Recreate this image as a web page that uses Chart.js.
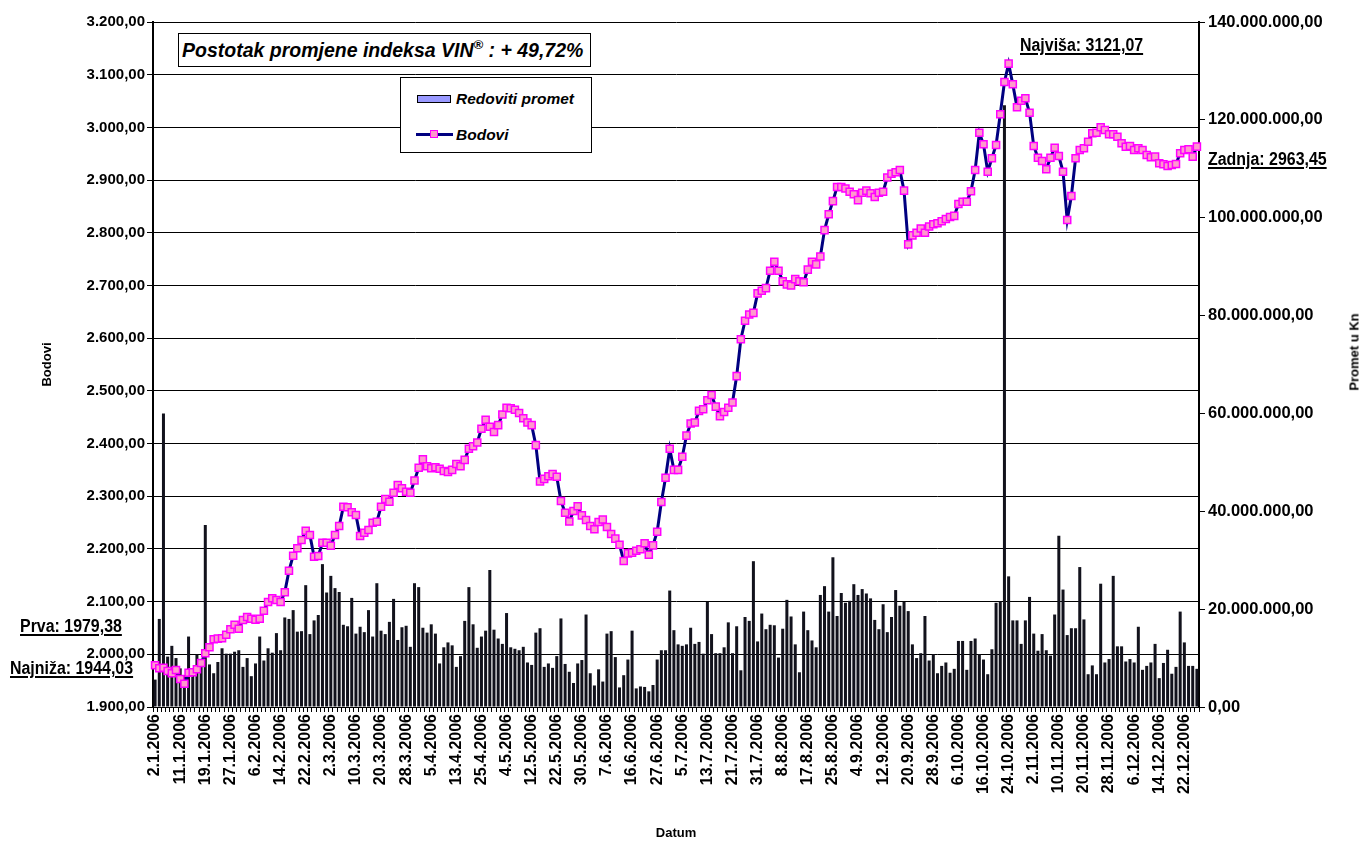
<!DOCTYPE html>
<html>
<head>
<meta charset="utf-8">
<script src="https://cdn.jsdelivr.net/npm/chart.js@4/dist/chart.umd.min.js"></script>
<style>
  html, body { margin: 0; padding: 0; background: #fff; }
  #wrap { position: relative; width: 1362px; height: 841px; font-family: 'Liberation Sans', Arial, sans-serif; }
  #chart { position: absolute; left: 0; top: 0; }
  .box { position: absolute; background: #fff; border: 1px solid #000; box-sizing: border-box; }
  .title { left: 178px; top: 33px; width: 413px; height: 34px; font: italic bold 19.5px 'Liberation Sans', Arial, sans-serif; line-height: 32px; padding-left: 3px; white-space: nowrap; }
  .title sup { font-size: 13px; line-height: 0; vertical-align: 8px; }
  .legend { left: 400px; top: 77px; width: 192px; height: 76px; font: italic bold 15.5px 'Liberation Sans', Arial, sans-serif; }
  .legend .row { position: absolute; left: 0; height: 20px; line-height: 20px; white-space: nowrap; }
  .legend .swatch { position: absolute; left: 16px; top: 6px; width: 34px; height: 8px; background: #9999ff; border: 1px solid #000; box-sizing: border-box; }
  .legend .ln { position: absolute; left: 15px; top: 8px; width: 37px; height: 3px; background: #000080; }
  .legend .mk { position: absolute; left: 29px; top: 5px; width: 8px; height: 8px; background: #ff99cc; border: 1.5px solid #ff00ff; box-sizing: border-box; }
  .legend .txt { position: absolute; left: 55px; top: 0; }
  .note { position: absolute; font: bold 18px 'Liberation Sans Narrow', 'Liberation Sans', Arial, sans-serif; line-height: 20px; white-space: nowrap; text-decoration: underline; text-decoration-thickness: 2px; text-underline-offset: 2px; transform: scaleX(0.885); transform-origin: 0 0; }
  .ytitle { position: absolute; font: bold 13px 'Liberation Sans', Arial, sans-serif; white-space: nowrap; transform: translate(-50%, -50%) rotate(-90deg); }
</style>
</head>
<body>
<div id="wrap">
  <canvas id="chart" width="1362" height="841"></canvas>
  <div class="box title">Postotak promjene indeksa VIN<sup>®</sup> : + 49,72%</div>
  <div class="box legend">
    <div class="row" style="top:11px"><span class="swatch"></span><span class="txt">Redoviti promet</span></div>
    <div class="row" style="top:47px"><span class="ln"></span><span class="mk"></span><span class="txt">Bodovi</span></div>
  </div>
  <div class="note" style="left:1020px; top:35px">Najviša: 3121,07</div>
  <div class="note" style="left:1208px; top:149px">Zadnja: 2963,45</div>
  <div class="note" style="left:20px; top:616px">Prva: 1979,38</div>
  <div class="note" style="left:10px; top:658px">Najniža: 1944,03</div>
  <div class="ytitle" style="left:1354px; top:352px">Promet u Kn</div>
</div>
<script>
/* ---- Data ---- */
// one tick label every 6th trading day
const TICK_LABELS = [
  '2.1.2006', '11.1.2006', '19.1.2006', '27.1.2006', '6.2.2006', '14.2.2006', '22.2.2006',
  '2.3.2006', '10.3.2006', '20.3.2006', '28.3.2006', '5.4.2006', '13.4.2006', '25.4.2006',
  '4.5.2006', '12.5.2006', '22.5.2006', '30.5.2006', '7.6.2006', '16.6.2006', '27.6.2006',
  '5.7.2006', '13.7.2006', '21.7.2006', '31.7.2006', '8.8.2006', '17.8.2006', '25.8.2006',
  '4.9.2006', '12.9.2006', '20.9.2006', '28.9.2006', '6.10.2006', '16.10.2006', '24.10.2006',
  '2.11.2006', '10.11.2006', '20.11.2006', '28.11.2006', '6.12.2006', '14.12.2006', '22.12.2006',
];
const LABEL_STEP = 6;

// VIN index points (Bodovi)
const BODOVI = [
  1979.38, 1973.4, 1974.5, 1968.3, 1963.9, 1970.2, 1953.1, 1944.03, 1965.1, 1965.8,
  1971.5, 1983.5, 2001.9, 2013.3, 2028.5, 2029.8, 2030.5, 2037.2, 2047.5, 2056.2,
  2048.6, 2065.1, 2070.8, 2067.6, 2065.7, 2067.6, 2082.8, 2099.3, 2106.3, 2103.1,
  2099.3, 2117.7, 2158.7, 2187.1, 2201.2, 2217.0, 2234.6, 2226.4, 2185.2, 2186.6,
  2211.8, 2211.8, 2206.1, 2226.4, 2243.5, 2280.1, 2279.0, 2269.5, 2264.4, 2224.5,
  2230.8, 2235.9, 2249.8, 2251.7, 2280.1, 2294.7, 2289.6, 2306.7, 2321.3, 2315.0,
  2308.6, 2306.7, 2330, 2354, 2370, 2357, 2353, 2355, 2352, 2348,
  2346, 2350, 2361, 2357, 2369, 2390, 2395, 2402, 2428, 2445,
  2432, 2422, 2435, 2455, 2468, 2467, 2464, 2458, 2448, 2440,
  2435, 2397, 2328, 2333, 2338, 2342, 2337, 2291, 2268.8, 2252,
  2272, 2281, 2263.7, 2254.9, 2243.5, 2237.2, 2251, 2256, 2241.6, 2228.3,
  2219.5, 2208, 2177, 2191.6, 2192.8, 2196.6, 2199.3, 2210.6, 2189, 2206.8,
  2232.7, 2289, 2335, 2390, 2350, 2350, 2375, 2415, 2438, 2440,
  2462, 2465, 2482, 2492, 2470, 2452, 2460, 2468, 2478, 2528,
  2598, 2633, 2645, 2648, 2685, 2690, 2695, 2728, 2745, 2728,
  2708, 2702, 2700, 2712, 2708, 2706, 2730, 2745, 2740, 2755,
  2805, 2835, 2860, 2887, 2887, 2884, 2878, 2873, 2862, 2876,
  2880, 2875, 2868, 2876, 2878, 2905, 2912, 2915, 2919, 2880,
  2778, 2795, 2800, 2808, 2800, 2812, 2816, 2818, 2822, 2826,
  2830, 2832, 2854.6, 2859, 2859, 2878.7, 2919.1, 2989.9, 2967.9, 2915.9,
  2941.3, 2966.6, 3024.8, 3086.1, 3121.07, 3081.7, 3038.1, 3050.6, 3055.2, 3027.9,
  2964.7, 2942.5, 2936.2, 2920.4, 2942.5, 2961.5, 2945.7, 2915.9, 2824.2, 2869.8,
  2941.3, 2957.1, 2960.3, 2972.8, 2988.8, 2989.9, 3000.2, 2995.0, 2986.9, 2986.9,
  2982.3, 2969.8, 2963.4, 2964.7, 2957.1, 2960.3, 2957.1, 2947.6, 2943.2, 2944.5,
  2931.8, 2930.0, 2926.7, 2928.6, 2930.5, 2950.8, 2957.1, 2958.4, 2944.5, 2963.45,
];

// regular turnover, millions of Kn (Redoviti promet)
const PROMET_MIL = [
  5.6, 18.0, 60.0, 10.3, 12.5, 10.0, 7.9, 6.5, 14.4, 7.0,
  10.7, 8.5, 37.2, 8.7, 6.9, 9.2, 12.0, 10.9, 10.9, 11.3,
  11.6, 8.2, 10.0, 6.3, 8.9, 14.4, 9.5, 12.0, 11.1, 15.1,
  11.6, 18.3, 18.0, 19.8, 15.4, 15.5, 24.9, 14.9, 17.7, 18.8,
  29.2, 23.4, 26.8, 24.3, 23.5, 16.8, 16.5, 22.3, 15.0, 16.4,
  15.3, 19.8, 14.4, 25.3, 15.6, 14.9, 17.4, 22.1, 13.7, 16.3,
  16.6, 12.3, 25.3, 24.5, 16.2, 15.2, 16.9, 15.0, 8.9, 12.2,
  13.2, 12.6, 8.2, 10.4, 17.6, 24.5, 16.9, 12.1, 14.4, 15.6,
  28.0, 15.8, 14.0, 12.9, 19.2, 12.2, 11.9, 11.6, 12.3, 9.1,
  8.6, 15.2, 16.1, 8.2, 8.9, 8.0, 10.4, 18.1, 8.8, 7.2,
  4.9, 8.9, 9.6, 18.9, 6.9, 4.4, 7.7, 5.2, 15.0, 15.5,
  10.2, 4.0, 6.5, 9.7, 15.6, 3.8, 4.2, 4.1, 3.2, 4.5,
  9.7, 11.6, 11.6, 23.8, 15.7, 12.8, 12.5, 12.8, 16.2, 12.9,
  13.3, 10.9, 21.5, 14.9, 11.0, 11.0, 12.2, 17.3, 11.0, 16.5,
  7.5, 18.4, 17.6, 29.8, 13.4, 19.1, 15.9, 16.8, 16.7, 10.1,
  16.0, 21.9, 18.5, 12.8, 7.1, 19.5, 15.7, 13.6, 12.2, 22.9,
  24.7, 19.5, 30.6, 18.6, 23.3, 21.3, 21.7, 25.1, 22.9, 24.1,
  23.2, 22.2, 17.8, 15.9, 21.0, 15.3, 18.4, 23.9, 20.7, 21.5,
  19.6, 12.8, 10.0, 11.0, 18.6, 9.5, 10.8, 6.9, 8.4, 9.1,
  7.0, 7.8, 13.5, 13.5, 7.6, 13.5, 14.0, 10.8, 9.7, 6.7,
  11.8, 21.3, 21.6, 123.0, 26.7, 17.7, 17.7, 12.9, 17.7, 22.5,
  15.0, 11.5, 14.9, 11.6, 10.5, 18.9, 35.0, 24.0, 14.7, 16.1,
  16.1, 28.6, 17.9, 6.7, 8.5, 6.7, 25.2, 9.1, 9.8, 26.8,
  12.4, 12.4, 9.3, 9.8, 9.1, 16.4, 7.6, 8.4, 9.1, 12.9,
  5.9, 9.0, 11.7, 6.8, 8.2, 19.5, 13.2, 8.4, 8.4, 7.8,
];

const FONT = "'Liberation Sans', Arial, sans-serif";

/* ---- Helpers ---- */
// 3200 -> "3.200,00"
function fmtHr(v) {
  const parts = Math.abs(v).toFixed(2).split('.');
  return parts[0].replace(/\B(?=(\d{3})+(?!\d))/g, '.') + ',' + parts[1];
}

const labels = BODOVI.map((_, i) => (i % LABEL_STEP === 0 ? TICK_LABELS[i / LABEL_STEP] : ''));

/* ---- Chart ---- */
new Chart(document.getElementById('chart').getContext('2d'), {
  data: {
    labels,
    datasets: [
      {
        type: 'line',
        label: 'Bodovi',
        data: BODOVI,
        yAxisID: 'y',
        order: 1,
        borderColor: '#000080',
        borderWidth: 3,
        tension: 0,
        pointStyle: 'rect',
        pointRadius: 5,
        pointBackgroundColor: '#ff99cc',
        pointBorderColor: '#ff00ff',
        pointBorderWidth: 1.5,
      },
      {
        type: 'bar',
        label: 'Redoviti promet',
        data: PROMET_MIL,
        yAxisID: 'y1',
        order: 2,
        backgroundColor: '#12121c',
        borderWidth: 0,
        barPercentage: 0.72,
        categoryPercentage: 1,
      },
    ],
  },
  options: {
    responsive: false,
    animation: false,
    layout: { padding: { top: 22, left: 0, right: 0, bottom: 0 } },
    plugins: { legend: { display: false }, tooltip: { enabled: false } },
    scales: {
      x: {
        offset: true,
        grid: { drawOnChartArea: false, drawTicks: true, tickLength: 5, color: '#000', offset: true },
        border: { color: '#000', width: 1 },
        ticks: {
          autoSkip: false, minRotation: 90, maxRotation: 90, padding: 2, color: '#000',
          font: { family: FONT, size: 16, weight: 'bold' },
        },
        title: {
          display: true, text: 'Datum', color: '#000', padding: { top: 0, bottom: 0 },
          font: { family: FONT, size: 13, weight: 'bold' },
        },
        afterFit: (s) => { s.height = 134; },
      },
      y: {
        position: 'left',
        min: 1900,
        max: 3200,
        grid: { color: '#000', lineWidth: 1, tickLength: 6 },
        border: { color: '#000', width: 2 },
        ticks: {
          stepSize: 100, padding: 2, color: '#000', callback: (v) => fmtHr(v),
          font: { family: FONT, size: 15, weight: 'bold' },
        },
        title: {
          display: true, text: 'Bodovi', color: '#000', padding: { top: 40, bottom: 0 },
          font: { family: FONT, size: 13, weight: 'bold' },
        },
        afterFit: (s) => { s.width = 153; },
      },
      y1: {
        position: 'right',
        min: 0,
        max: 140,
        grid: { drawOnChartArea: false, color: '#000', tickLength: 6 },
        border: { color: '#000', width: 2 },
        ticks: {
          stepSize: 20, padding: 3, color: '#000', callback: (v) => fmtHr(v * 1e6),
          font: { family: FONT, size: 16.5, weight: 'bold' },
        },
        afterFit: (s) => { s.width = 163; },
      },
    },
  },
});
</script>
</body>
</html>
